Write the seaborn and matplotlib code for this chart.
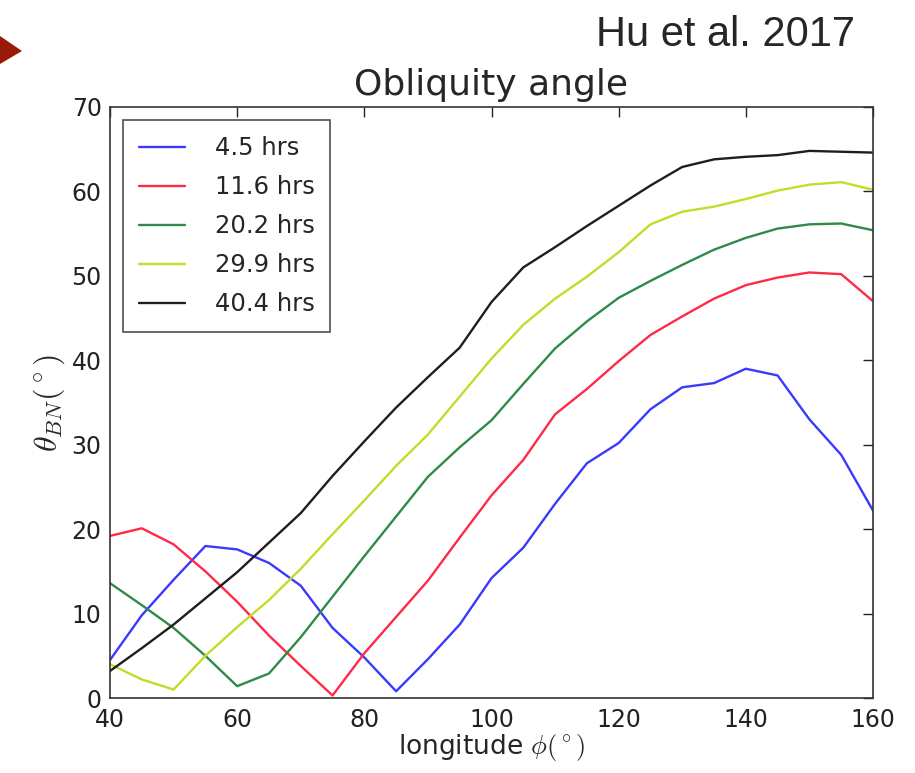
import numpy as np
import pandas as pd
import matplotlib
matplotlib.use("Agg")
import matplotlib.pyplot as plt
from matplotlib.patches import Polygon
import seaborn as sns

# longitude grid (degrees)
longitude = [40, 45, 50, 55, 60, 65, 70, 75, 80, 85, 90, 95, 100,
             105, 110, 115, 120, 125, 130, 135, 140, 145, 150, 155, 160]

# obliquity angle theta_BN (degrees) for each elapsed time
theta_4_5 = [4.5, 9.8, 14.0, 18.0, 17.6, 16.0, 13.3, 8.3, 4.8, 0.8, 4.6, 8.7, 14.2,
             17.8, 23.0, 27.8, 30.2, 34.2, 36.8, 37.3, 39.0, 38.2, 33.0, 28.8, 22.2]
theta_11_6 = [19.2, 20.1, 18.2, 15.0, 11.4, 7.4, 3.8, 0.3, 5.3, 9.6, 13.9, 19.0, 24.0,
              28.2, 33.6, 36.6, 39.9, 43.0, 45.2, 47.3, 48.9, 49.8, 50.4, 50.2, 47.0]
theta_20_2 = [13.6, 11.0, 8.3, 5.0, 1.4, 2.9, 7.2, 12.0, 16.8, 21.5, 26.2, 29.7, 32.9,
              37.2, 41.4, 44.6, 47.4, 49.4, 51.3, 53.1, 54.5, 55.6, 56.1, 56.2, 55.4]
theta_29_9 = [4.0, 2.2, 1.0, 5.0, 8.4, 11.6, 15.3, 19.4, 23.4, 27.5, 31.2, 35.7, 40.2,
              44.2, 47.3, 49.9, 52.8, 56.1, 57.6, 58.2, 59.1, 60.1, 60.8, 61.1, 60.2]
theta_40_4 = [3.2, 5.9, 8.7, 11.8, 14.9, 18.4, 21.9, 26.3, 30.4, 34.4, 38.0, 41.5, 46.9,
              51.0, 53.4, 55.9, 58.3, 60.7, 62.9, 63.8, 64.1, 64.3, 64.8, 64.7, 64.6]

labels = ["4.5 hrs", "11.6 hrs", "20.2 hrs", "29.9 hrs", "40.4 hrs"]
series = [theta_4_5, theta_11_6, theta_20_2, theta_29_9, theta_40_4]
colors = ["#3a3aff", "#ff2a48", "#2f8a4a", "#c4dc28", "#1e1e1e"]

x_ticks = [40, 60, 80, 100, 120, 140, 160]
y_ticks = [0, 10, 20, 30, 40, 50, 60, 70]

df = pd.concat(
    [pd.DataFrame({"longitude": longitude, "theta": vals, "time": lab})
     for lab, vals in zip(labels, series)],
    ignore_index=True,
)

sns.set_style("white")
plt.rcParams["font.family"] = ["DejaVu Sans"]
plt.rcParams["mathtext.fontset"] = "cm"

fig = plt.figure(figsize=(9.15, 7.73), dpi=100)
ax = fig.add_axes([110 / 915, 1 - 698 / 773, (873 - 110) / 915, (698 - 107) / 773])

sns.lineplot(data=df, x="longitude", y="theta", hue="time", hue_order=labels,
             palette=dict(zip(labels, colors)), linewidth=1.7, ax=ax, legend=True)

ax.set_xlim(40, 160)
ax.set_ylim(0, 70)
ax.set_xticks(x_ticks)
ax.set_yticks(y_ticks)
ax.tick_params(direction="in", length=7, width=1, top=True, right=True,
               labelsize=17, colors="#222222")
ax.tick_params(axis="x", pad=7)
ax.tick_params(axis="y", pad=6)
for sp in ax.spines.values():
    sp.set_visible(True)
    sp.set_color("#333333")
    sp.set_linewidth(1.2)

ax.set_title("Obliquity angle", fontsize=26, pad=9)
ax.set_xlabel(r"longitude $\phi(^\circ)$", fontsize=19, labelpad=0)
ax.set_ylabel(r"$\theta_{BN}(^\circ)$", fontsize=23, labelpad=3)

leg = ax.legend(loc="upper left", fontsize=17.5, frameon=True, fancybox=False,
                handlelength=1.9, handletextpad=1.2, labelspacing=0.62,
                borderpad=0.65, borderaxespad=0.55)
leg.get_frame().set_edgecolor("#222222")
leg.get_frame().set_linewidth(1.2)
for line in leg.get_lines():
    line.set_linewidth(1.7)

# citation and pointer from the surrounding slide
fig.text(855 / 915, 1 - 35 / 773, "Hu et al. 2017", ha="right", va="center",
         fontsize=30, family=["Liberation Sans Narrow", "Liberation Sans", "DejaVu Sans"])
fig.patches.append(Polygon([[0, 1 - 36 / 773], [22 / 915, 1 - 51 / 773], [0, 1 - 64 / 773]],
                           closed=True, transform=fig.transFigure,
                           facecolor="#9a1a0a", edgecolor="none"))

fig.savefig("out.png", dpi=100, facecolor="white")
